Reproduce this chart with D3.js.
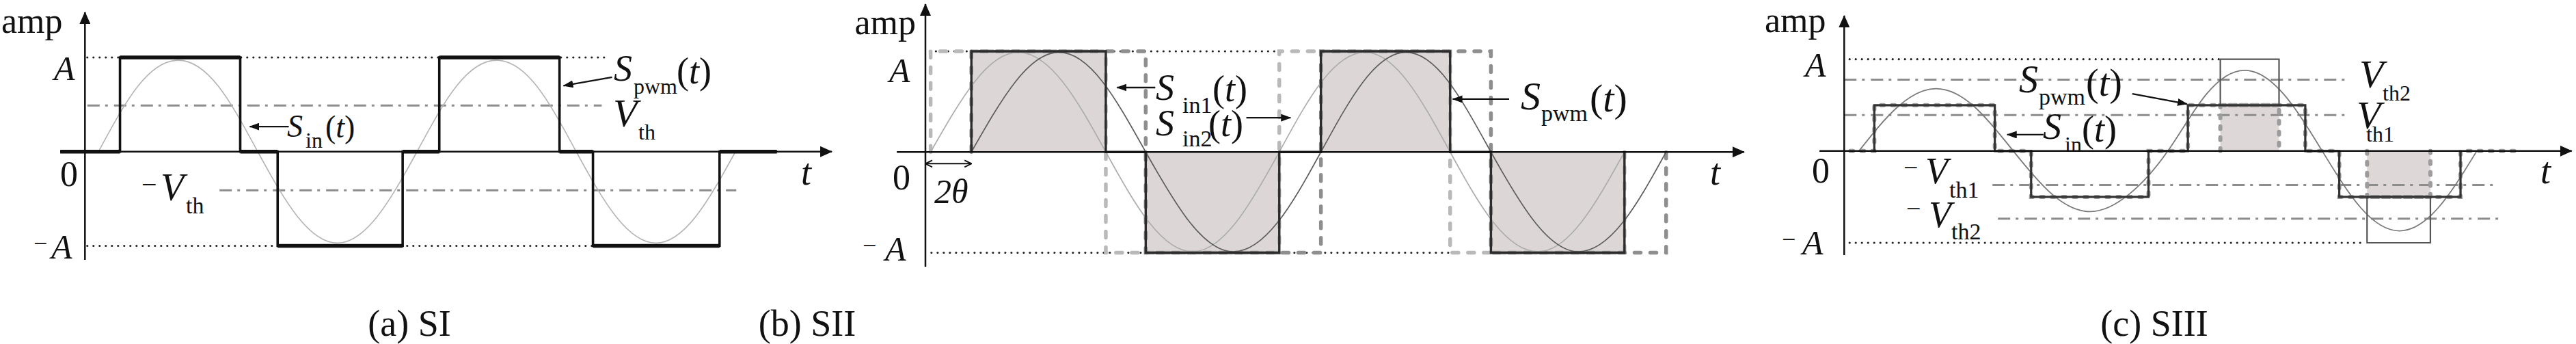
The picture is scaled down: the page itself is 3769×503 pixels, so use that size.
<!DOCTYPE html>
<html><head><meta charset="utf-8">
<script src="https://cdn.jsdelivr.net/npm/d3@7"></script>
<style>
body{margin:0;background:#fff}
svg{display:block}
text{font-family:"Liberation Serif","Times New Roman",serif;fill:#111}
</style>
</head><body>
<svg id="chart" width="3769" height="503"></svg>
<script>
// ================= DATA (time in quarter-period units, amplitude in units of A) =================
// (a) SI
const aPulseStart = [0.44, 2.42, 4.45, 6.38];
const aPulseEnd   = [1.95, 3.99, 5.96, 7.97];
const aPulseLevel = [1, -1, 1, -1];
const aSineT = [0.17,0.67,1.17,1.67,2.17,2.67,3.17,3.67,4.17,4.67,5.17,5.67,6.17,6.67,7.17,7.67,8.17];
const aSineV = [0,0.70,0.97,0.70,0,-0.69,-0.97,-0.69,0,0.70,0.97,0.70,0,-0.69,-0.97,-0.69,0];
const aRefLevels = [1, -1, 0.49, -0.41];          // A, -A, Vth, -Vth
const aRefFrom   = [0.03, 0.03, 0.03, 1.69];
const aRefTo     = [6.52, 6.38, 6.49, 8.18];
const aRefKind   = ["dot", "dot", "dashdot", "dashdot"];

// (b) SII
const bSqAEdges  = [0.06, 2.08, 4.08, 6.05, 8.06];
const bSqBEdges  = [0.53, 2.54, 4.56, 6.52, 8.54];
const bSqLevels  = [1, -1, 1, -1];
const bPwmStart  = [0.53, 2.54, 4.56, 6.52];
const bPwmEnd    = [2.08, 4.08, 6.05, 8.06];
const bPwmLevel  = [1, -1, 1, -1];
const bSine1T = [0.06,0.57,1.07,1.58,2.08,2.58,3.08,3.58,4.08,4.57,5.07,5.56,6.05,6.55,7.06,7.56,8.06];
const bSine2T = [0.53,1.04,1.54,2.04,2.54,3.05,3.55,4.06,4.56,5.05,5.54,6.03,6.52,7.03,7.53,8.04,8.54];
const bSineV  = [0,0.70,0.99,0.70,0,-0.70,-0.99,-0.70,0,0.70,0.99,0.70,0,-0.70,-0.99,-0.70,0];
const bRefLevels = [1, -1];
const bRefFrom   = [0.05, 0.07];
const bRefTo     = [4.08, 6.05];
const bTheta     = [0, 0.53];

// (c) SIII
const cPulseStart = [0.39, 2.42, 4.45, 6.41];
const cPulseEnd   = [1.95, 3.94, 5.97, 7.98];
const cPulseLevel = [0.5, -0.5, 0.5, -0.5];
const cPeakStart  = [4.87, 6.77];
const cPeakEnd    = [5.63, 7.59];
const cPeakLevel  = [1, -1];
const cSineT = [0.19,0.69,1.19,1.69,2.19,2.69,3.19,3.69,4.19,4.69,5.19,5.69,6.19,6.69,7.19,7.69,8.19];
const cSineV = [0,0.48,0.68,0.48,0,-0.47,-0.66,-0.47,0,0.62,0.88,0.62,0,-0.62,-0.87,-0.62,0];
const cRefLevels = [1, -1, 0.777, 0.393, -0.37, -0.738];  // A, -A, Vth2, Vth1, -Vth1, -Vth2
const cRefFrom   = [0.07, 0.07, 0.0, 0.0, 1.92, 1.99];
const cRefTo     = [4.87, 6.75, 6.5, 6.5, 8.42, 8.49];
const cRefKind   = ["dot", "dot", "dashdot", "dashdot", "dashdot", "dashdot"];

const captions = ["(a) SI", "(b) SII", "(c) SIII"];

// ================= LAYOUT =================
const svg = d3.select("#chart");
const defs = svg.append("defs");
function marker(id, w, h, d, filled) {
  const m = defs.append("marker").attr("id", id).attr("viewBox", `0 0 ${w} ${h}`)
    .attr("refX", w - 1).attr("refY", h / 2).attr("markerWidth", w).attr("markerHeight", h)
    .attr("markerUnits", "userSpaceOnUse").attr("orient", "auto-start-reverse");
  m.append("path").attr("d", d).attr("fill", filled ? "#111" : "none")
    .attr("stroke", filled ? "none" : "#111").attr("stroke-width", 2);
}
marker("head", 15, 11, "M0,0L15,5.5L0,11Z", true);
marker("axhead", 18, 16, "M0,0L18,8L0,16Z", true);
marker("open", 12, 12, "M1,1L11,6L1,11", false);

const P = {
  a: {axisX: 124.3, unit: 116.5, yTop: 84,   yBot: 359.5, top: 18, bottom: 380, t0: -0.31, t1: 9.38},
  b: {axisX: 1354,  unit: 126.9, yTop: 75,   yBot: 369.5, top: 6,  bottom: 390, t0: -0.33, t1: 9.44},
  c: {axisX: 2698.3,unit: 113,   yTop: 86.7, yBot: 355,   top: 23, bottom: 373, t0: -0.32, t1: 9.42}
};
for (const k in P) {
  const p = P[k];
  p.x = d3.scaleLinear().domain([0, 10]).range([p.axisX, p.axisX + 10 * p.unit]);
  p.y = d3.scaleLinear().domain([-1, 1]).range([p.yBot, p.yTop]);
  p.line = d3.line().x(d => p.x(d[0])).y(d => p.y(d[1]));
  p.g = svg.append("g");
}

function pulsePoints(starts, ends, levels, t0, t1) {
  const pts = [[t0, 0]];
  starts.forEach((s, i) => pts.push([s, 0], [s, levels[i]], [ends[i], levels[i]], [ends[i], 0]));
  pts.push([t1, 0]);
  return pts;
}
function edgePoints(edges, levels) {
  const pts = [[edges[0], 0]];
  levels.forEach((L, i) => pts.push([edges[i], L], [edges[i + 1], L]));
  pts.push([edges[edges.length - 1], 0]);
  return pts;
}
function refLines(p, levels, from, to, kinds) {
  levels.forEach((L, i) => {
    const dot = (kinds ? kinds[i] : "dot") === "dot";
    p.g.append("path").attr("d", p.line([[from[i], L], [to[i], L]])).attr("fill", "none")
      .attr("stroke", dot ? "#222" : "#8d8d8d").attr("stroke-width", dot ? 3.2 : 3)
      .attr("stroke-linecap", dot ? "round" : "butt")
      .attr("stroke-dasharray", dot ? "0,9" : "18,8,4,9");
  });
}
function sine(p, T, V, color, w) {
  p.g.append("path").datum(T.map((t, i) => [t, V[i]]))
    .attr("d", d3.line().x(d => p.x(d[0])).y(d => p.y(d[1])).curve(d3.curveNatural))
    .attr("fill", "none").attr("stroke", color).attr("stroke-width", w);
}
function axes(p) {
  p.g.append("line").attr("x1", p.x(0)).attr("x2", p.x(0)).attr("y1", p.bottom).attr("y2", p.top)
    .attr("stroke", "#111").attr("stroke-width", 2.5).attr("marker-end", "url(#axhead)");
  p.g.append("path").attr("d", p.line([[p.t0, 0], [p.t1, 0]]))
    .attr("stroke", "#111").attr("stroke-width", 2.5).attr("marker-end", "url(#axhead)");
}
function arrow(p, t1, v1, t2, v2) {
  p.g.append("path").attr("d", p.line([[t1, v1], [t2, v2]])).attr("stroke", "#111")
    .attr("stroke-width", 2.3).attr("marker-end", "url(#head)");
}
function label(parts, anchor) {
  const t = svg.append("text").attr("text-anchor", anchor || "start");
  parts.forEach(q => {
    const s = t.append("tspan").text(q.s).attr("font-size", q.f);
    if (q.x != null) s.attr("x", q.x);
    if (q.y != null) s.attr("y", q.y);
    if (q.i) s.attr("font-style", "italic");
  });
}
const fnT = (x, y, f) => [{s: "(", x, y, f}, {s: "t", f, i: 1}, {s: ")", f}];

// ---------------- panel (a) ----------------
{
  const p = P.a;
  refLines(p, aRefLevels, aRefFrom, aRefTo, aRefKind);
  sine(p, aSineT, aSineV, "#b4b4b4", 1.6);
  p.g.append("path").attr("d", p.line(pulsePoints(aPulseStart, aPulseEnd, aPulseLevel, p.t0, 8.69)))
    .attr("fill", "none").attr("stroke", "#111").attr("stroke-width", 3.6);
  const zs = [p.t0].concat(aPulseEnd), ze = aPulseStart.concat([8.69]);
  zs.forEach((s, i) => p.g.append("path").attr("d", p.line([[s, 0], [ze[i], 0]]))
    .attr("stroke", "#111").attr("stroke-width", 5.5));
  aPulseStart.forEach((s, i) => p.g.append("path")
    .attr("d", p.line([[s, aPulseLevel[i]], [aPulseEnd[i], aPulseLevel[i]]]))
    .attr("stroke", "#111").attr("stroke-width", 5.5));
  axes(p);
  arrow(p, 2.56, 0.266, 2.07, 0.266);
  arrow(p, 6.62, 0.79, 6.01, 0.70);
}
label([{s: "amp", x: 2, y: 48, f: 52}]);
label([{s: "A", x: 79, y: 117, f: 50, i: 1}]);
label([{s: "0", x: 88, y: 272, f: 52}]);
label([{s: "\u2212", x: 49, y: 368, f: 36}, {s: "A", x: 75, y: 378, f: 50, i: 1}]);
label([{s: "\u2212", x: 207, y: 283, f: 40}, {s: "V", x: 235, y: 293, f: 56, i: 1}, {s: "th", x: 272, y: 312, f: 34}]);
label([{s: "S", x: 420, y: 200, f: 46, i: 1}, {s: "in", x: 447, y: 216, f: 32}].concat(fnT(476, 201, 46)));
label([{s: "S", x: 898, y: 118, f: 54, i: 1}, {s: "pwm", x: 927, y: 137, f: 32}].concat(fnT(990, 122, 54)));
label([{s: "V", x: 897, y: 185, f: 58, i: 1}, {s: "th", x: 934, y: 204, f: 32}]);
label([{s: "t", x: 1172, y: 270, f: 54, i: 1}]);

// ---------------- panel (b) ----------------
{
  const p = P.b;
  bPwmStart.forEach((s, i) => {
    const y0 = p.y(0), y1 = p.y(bPwmLevel[i]);
    p.g.append("rect").attr("x", p.x(s)).attr("width", p.x(bPwmEnd[i]) - p.x(s))
      .attr("y", Math.min(y0, y1)).attr("height", Math.abs(y1 - y0)).attr("fill", "#ddd6d6");
  });
  refLines(p, bRefLevels, bRefFrom, bRefTo);
  p.g.append("path").attr("d", p.line(edgePoints(bSqAEdges, bSqLevels))).attr("fill", "none")
    .attr("stroke", "#b9b9b9").attr("stroke-width", 5.5).attr("stroke-linecap", "round")
    .attr("stroke-dasharray", "9,14");
  p.g.append("path").attr("d", p.line(edgePoints(bSqBEdges, bSqLevels))).attr("fill", "none")
    .attr("stroke", "#8e8e8e").attr("stroke-width", 5.5).attr("stroke-linecap", "round")
    .attr("stroke-dasharray", "9,14");
  sine(p, bSine1T, bSineV, "#adadad", 1.7);
  sine(p, bSine2T, bSineV, "#5e5e5e", 1.7);
  p.g.append("path").attr("d", p.line(pulsePoints(bPwmStart, bPwmEnd, bPwmLevel, bPwmStart[0], bPwmEnd[3])))
    .attr("fill", "none").attr("stroke", "#2c2c2c").attr("stroke-width", 3.4);
  axes(p);
  p.g.append("path").attr("d", p.line([[bTheta[0], -0.116], [bTheta[1], -0.116]]))
    .attr("stroke", "#111").attr("stroke-width", 2)
    .attr("marker-start", "url(#open)").attr("marker-end", "url(#open)");
  arrow(p, 2.65, 0.64, 2.21, 0.64);
  arrow(p, 3.70, 0.34, 4.21, 0.34);
  arrow(p, 6.73, 0.525, 6.08, 0.525);
}
label([{s: "amp", x: 1340, y: 50, f: 52}], "end");
label([{s: "A", x: 1301, y: 120, f: 50, i: 1}]);
label([{s: "0", x: 1306, y: 277, f: 52}]);
label([{s: "\u2212", x: 1262, y: 371, f: 36}, {s: "A", x: 1295, y: 381, f: 50, i: 1}]);
label([{s: "2", x: 1367, y: 297, f: 50, i: 1}, {s: "\u03b8", f: 50, i: 1}]);
label([{s: "S", x: 1691, y: 146, f: 54, i: 1}, {s: "in1", x: 1730, y: 165, f: 34}].concat(fnT(1774, 148, 54)));
label([{s: "S", x: 1691, y: 198, f: 54, i: 1}, {s: "in2", x: 1730, y: 214, f: 34}].concat(fnT(1768, 199, 54)));
label([{s: "S", x: 2225, y: 160, f: 58, i: 1}, {s: "pwm", x: 2255, y: 177, f: 34}].concat(fnT(2326, 163, 58)));
label([{s: "t", x: 2502, y: 270, f: 54, i: 1}]);

// ---------------- panel (c) ----------------
{
  const p = P.c;
  cPeakStart.forEach((s, i) => {
    const y0 = p.y(0), ya = p.y(cPeakLevel[i] * 0.5);
    p.g.append("rect").attr("x", p.x(s)).attr("width", p.x(cPeakEnd[i]) - p.x(s))
      .attr("y", Math.min(y0, ya)).attr("height", Math.abs(ya - y0)).attr("fill", "#ddd7d7");
  });
  refLines(p, cRefLevels, cRefFrom, cRefTo, cRefKind);
  const dashSty = s => s.attr("fill", "none").attr("stroke", "#9c9c9c").attr("stroke-width", 6)
    .attr("stroke-linecap", "round").attr("stroke-dasharray", "4,12");
  dashSty(p.g.append("path").attr("d", p.line(pulsePoints(cPulseStart, cPulseEnd, cPulseLevel, 0.08, 8.70))));
  cPeakStart.forEach((s, i) => {
    const L = cPeakLevel[i] * 0.5;
    dashSty(p.g.append("path").attr("d", p.line([[s, 0], [s, L], [cPeakEnd[i], L], [cPeakEnd[i], 0]])));
  });
  sine(p, cSineT, cSineV, "#7a7a7a", 1.8);
  cPeakStart.forEach((s, i) => {
    const L = cPeakLevel[i], B = cPeakLevel[i] * 0.5;
    p.g.append("path").attr("d", p.line([[s, B], [s, L], [cPeakEnd[i], L], [cPeakEnd[i], B]]))
      .attr("fill", "none").attr("stroke", "#555").attr("stroke-width", 2.2);
  });
  p.g.append("path").attr("d", p.line(pulsePoints(cPulseStart, cPulseEnd, cPulseLevel, cPulseStart[0], cPulseEnd[3])))
    .attr("fill", "none").attr("stroke", "#333").attr("stroke-width", 3.2);
  axes(p);
  arrow(p, 3.73, 0.625, 4.44, 0.513);
  arrow(p, 2.58, 0.178, 2.11, 0.178);
}
label([{s: "amp", x: 2582, y: 47, f: 52}]);
label([{s: "A", x: 2641, y: 112, f: 50, i: 1}]);
label([{s: "0", x: 2651, y: 267, f: 52}]);
label([{s: "\u2212", x: 2607, y: 362, f: 36}, {s: "A", x: 2637, y: 372, f: 50, i: 1}]);
label([{s: "\u2212", x: 2785, y: 258, f: 38}, {s: "V", x: 2817, y: 268, f: 54, i: 1}, {s: "th1", x: 2852, y: 289, f: 34}]);
label([{s: "\u2212", x: 2789, y: 318, f: 38}, {s: "V", x: 2822, y: 332, f: 54, i: 1}, {s: "th2", x: 2855, y: 350, f: 34}]);
label([{s: "S", x: 2954, y: 135, f: 56, i: 1}, {s: "pwm", x: 2983, y: 153, f: 34}].concat(fnT(3052, 140, 56)));
label([{s: "S", x: 2989, y: 203, f: 54, i: 1}, {s: "in", x: 3021, y: 222, f: 32}].concat(fnT(3046, 207, 54)));
label([{s: "V", x: 3452, y: 128, f: 58, i: 1}, {s: "th2", x: 3486, y: 147, f: 32}]);
label([{s: "V", x: 3448, y: 188, f: 58, i: 1}, {s: "th1", x: 3462, y: 207, f: 32}]);
label([{s: "t", x: 3717, y: 268, f: 54, i: 1}]);

// captions
[599, 1181, 3152].forEach((cx, i) =>
  svg.append("text").attr("x", cx).attr("y", 491).attr("text-anchor", "middle")
    .attr("font-size", 54).text(captions[i]));
</script>
</body></html>
